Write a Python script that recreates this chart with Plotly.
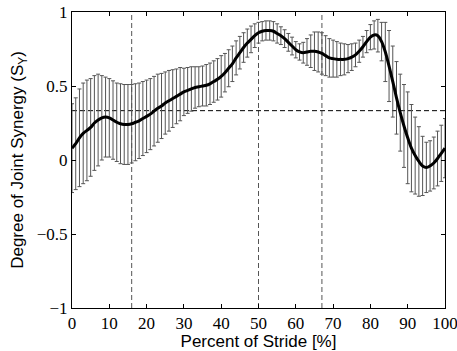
import plotly.graph_objects as go

stride = list(range(0, 101))
mean_sy = [0.08, 0.11, 0.15, 0.18, 0.20, 0.22, 0.25, 0.27, 0.285, 0.29,
           0.285, 0.27, 0.255, 0.245, 0.24, 0.24, 0.245, 0.255, 0.265, 0.28,
           0.295, 0.31, 0.33, 0.35, 0.365, 0.385, 0.40, 0.415, 0.43, 0.445,
           0.46, 0.47, 0.48, 0.49, 0.495, 0.50, 0.505, 0.515, 0.53, 0.545,
           0.565, 0.59, 0.62, 0.65, 0.69, 0.725, 0.76, 0.79, 0.815, 0.84,
           0.86, 0.87, 0.875, 0.875, 0.87, 0.855, 0.84, 0.82, 0.795, 0.77,
           0.745, 0.73, 0.725, 0.73, 0.735, 0.735, 0.73, 0.72, 0.705, 0.69,
           0.685, 0.68, 0.68, 0.68, 0.685, 0.695, 0.71, 0.735, 0.765, 0.80,
           0.83, 0.845, 0.84, 0.80, 0.73, 0.635, 0.53, 0.42, 0.32, 0.23,
           0.15, 0.08, 0.03, -0.01, -0.04, -0.05, -0.04, -0.02, 0.01, 0.045,
           0.08]
sd_sy = [0.30, 0.31, 0.33, 0.34, 0.34, 0.33, 0.32, 0.31, 0.285, 0.27,
         0.265, 0.265, 0.265, 0.27, 0.27, 0.27, 0.265, 0.26, 0.255, 0.25,
         0.245, 0.24, 0.235, 0.23, 0.22, 0.21, 0.205, 0.195, 0.185, 0.18,
         0.16, 0.155, 0.15, 0.14, 0.135, 0.135, 0.14, 0.14, 0.14, 0.14,
         0.14, 0.13, 0.125, 0.12, 0.115, 0.11, 0.10, 0.095, 0.09, 0.08,
         0.07, 0.065, 0.065, 0.065, 0.065, 0.065, 0.06, 0.06, 0.06, 0.06,
         0.055, 0.055, 0.07, 0.09, 0.11, 0.13, 0.135, 0.14, 0.135, 0.13,
         0.125, 0.12, 0.11, 0.105, 0.095, 0.09, 0.08, 0.075, 0.07, 0.075,
         0.085, 0.095, 0.11, 0.13, 0.20, 0.24, 0.24, 0.245, 0.26, 0.28,
         0.31, 0.295, 0.26, 0.235, 0.20, 0.17, 0.17, 0.175, 0.185, 0.19,
         0.20]
phase_lines = [16, 50, 67]
chance_level = 1 / 3
x_ticks = [0, 10, 20, 30, 40, 50, 60, 70, 80, 90, 100]
y_ticks = [-1, -0.5, 0, 0.5, 1]
y_tick_text = ["\u22121", "\u22120.5", "0", "0.5", "1"]

SERIF = "Liberation Serif"
SANS = "Liberation Sans"

fig = go.Figure()
fig.add_trace(go.Scatter(
    x=stride, y=mean_sy, mode="lines",
    line=dict(color="black", width=3, shape="spline"),
    error_y=dict(type="data", array=sd_sy, visible=True,
                 color="#555555", thickness=1, width=2),
    showlegend=False,
))
for xv in phase_lines:
    fig.add_shape(type="line", x0=xv, x1=xv, y0=-1, y1=1, xref="x", yref="y",
                  line=dict(color="#555555", width=1, dash="5px,3px"), layer="below")
fig.add_shape(type="line", x0=0, x1=100, y0=chance_level, y1=chance_level,
              xref="x", yref="y",
              line=dict(color="black", width=1, dash="5px,3px"), layer="below")

axis_common = dict(showline=True, mirror="ticks", linecolor="black", linewidth=1,
                   ticks="inside", ticklen=4, tickcolor="black", showgrid=False,
                   zeroline=False, automargin=False, ticklabeloverflow="allow")
fig.update_xaxes(range=[0, 100], tickvals=x_ticks, **axis_common,
                 tickfont=dict(family=SERIF, size=17, color="black"),
                 title=dict(text="Percent of Stride [%]", standoff=1,
                            font=dict(family=SANS, size=17, color="black")))
fig.update_yaxes(range=[-1, 1], tickvals=y_ticks, ticktext=y_tick_text, **axis_common,
                 tickfont=dict(family=SERIF, size=17, color="black"),
                 title=dict(text="Degree of Joint Synergy (S<sub>Y</sub>)", standoff=8,
                            font=dict(family=SANS, size=17, color="black")))
fig.update_layout(width=457, height=351, margin=dict(l=72, r=12, t=12, b=43),
                  font=dict(family=SERIF, color="black"),
                  plot_bgcolor="white", paper_bgcolor="white")
fig.write_html("out.html")
